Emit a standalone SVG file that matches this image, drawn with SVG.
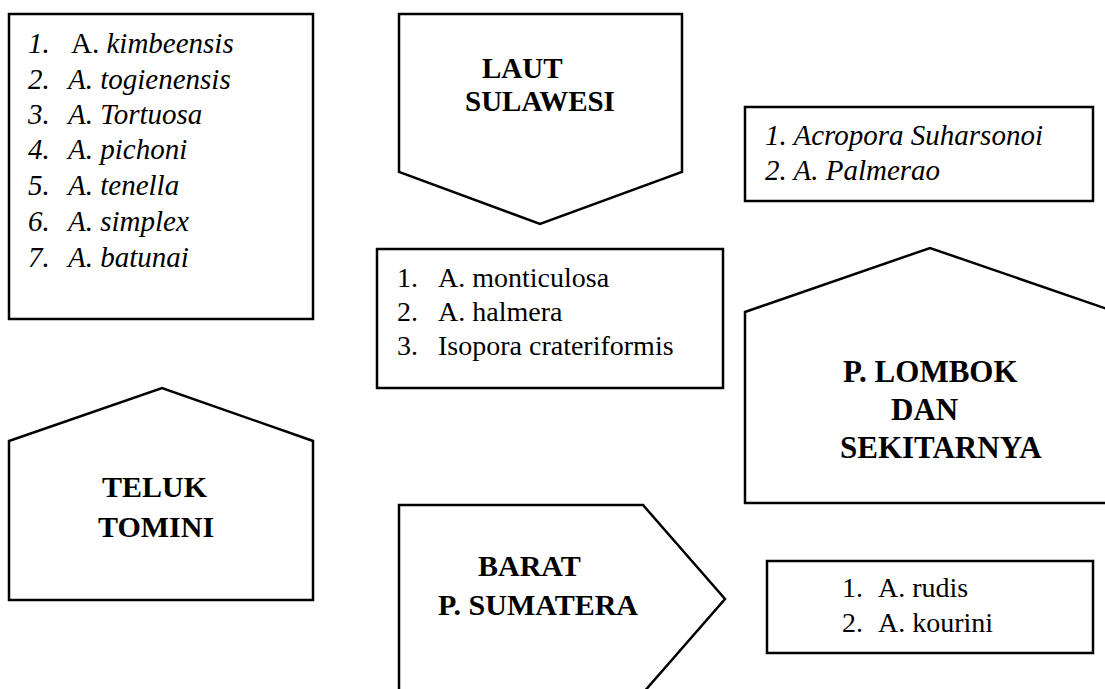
<svg xmlns="http://www.w3.org/2000/svg" width="1105" height="689" viewBox="0 0 1105 689">
<style>
.shape{fill:#fff;stroke:#000;stroke-width:2.5}
.it{font-family:"Liberation Serif","Times New Roman",serif;font-style:italic;fill:#000}
.up{font-family:"Liberation Serif","Times New Roman",serif;fill:#000}
.bd{font-family:"Liberation Serif","Times New Roman",serif;font-weight:bold;fill:#000}
</style>
<rect width="1105" height="689" fill="#fff"/>
<g id="list-teluk-tomini">
<rect class="shape" x="9" y="14" width="304" height="305"/>
<g class="it" font-size="29">
<text x="28" y="53">1.</text><text x="71" y="53"><tspan font-style="normal">A.</tspan> kimbeensis</text>
<text x="28" y="89">2.</text><text x="68" y="89">A. togienensis</text>
<text x="28" y="124">3.</text><text x="68" y="124">A. Tortuosa</text>
<text x="28" y="159">4.</text><text x="68" y="159">A. pichoni</text>
<text x="28" y="195">5.</text><text x="68" y="195">A. tenella</text>
<text x="28" y="231">6.</text><text x="68" y="231">A. simplex</text>
<text x="28" y="267">7.</text><text x="68" y="267">A. batunai</text>
</g>
</g>
<g id="laut-sulawesi">
<polygon class="shape" points="399,14 682,14 682,172 540,224 399,172"/>
<text class="bd" font-size="29" x="482" y="78">LAUT</text>
<text class="bd" font-size="29" x="465" y="111">SULAWESI</text>
</g>
<g id="list-lombok">
<rect class="shape" x="745" y="107" width="348" height="94"/>
<text class="it" font-size="29" x="765" y="145">1. Acropora Suharsonoi</text>
<text class="it" font-size="29" x="765" y="180">2. A. Palmerao</text>
</g>
<g id="list-laut-sulawesi">
<rect class="shape" x="377" y="249" width="346" height="139"/>
<g class="up" font-size="28">
<text x="397" y="287">1.</text><text x="438" y="287">A. monticulosa</text>
<text x="397" y="321">2.</text><text x="438" y="321">A. halmera</text>
<text x="397" y="355">3.</text><text x="438" y="355">Isopora crateriformis</text>
</g>
</g>
<g id="lombok">
<polygon class="shape" points="745,312 930,248 1116,312 1116,503 745,503"/>
<text class="bd" font-size="31" x="843" y="382">P. LOMBOK</text>
<text class="bd" font-size="31" x="891" y="420">DAN</text>
<text class="bd" font-size="31" x="840" y="458">SEKITARNYA</text>
</g>
<g id="teluk-tomini">
<polygon class="shape" points="9,441 162,388 313,441 313,600 9,600"/>
<text class="bd" font-size="30" x="102" y="497">TELUK</text>
<text class="bd" font-size="30" x="98" y="537">TOMINI</text>
</g>
<g id="barat-sumatera">
<polygon class="shape" points="399,505 643,505 725,599 643,693 399,693"/>
<text class="bd" font-size="30" x="478" y="576">BARAT</text>
<text class="bd" font-size="30" x="438" y="615">P. SUMATERA</text>
</g>
<g id="list-barat-sumatera">
<rect class="shape" x="767" y="561" width="326" height="92"/>
<g class="up" font-size="28">
<text x="842" y="597">1.</text><text x="878" y="597">A. rudis</text>
<text x="842" y="632">2.</text><text x="878" y="632">A. kourini</text>
</g>
</g>
<g id="connectors"/>
</svg>
